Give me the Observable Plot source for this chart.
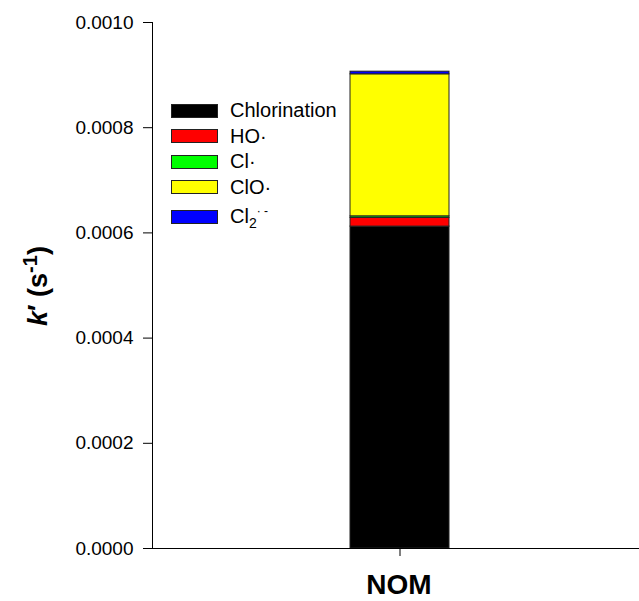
<!DOCTYPE html>
<html><head><meta charset="utf-8">
<script src="https://cdn.jsdelivr.net/npm/d3@7"></script>
<script src="https://cdn.jsdelivr.net/npm/@observablehq/plot@0.6"></script>
<style>
body{margin:0;overflow:hidden;background:#fff;font-family:"Liberation Sans",Arial,sans-serif;}
#wrap{position:relative;width:639px;height:601px;}
#legend{position:absolute;left:171px;top:98px;font-size:20px;color:#000;}
.row{display:flex;align-items:center;height:25.5px;}
.sw{width:47px;height:14px;border:1px solid #222;box-sizing:border-box;margin-right:12px;}
sub{font-size:14px;}
sup{font-size:12px;}
</style></head>
<body><div id="wrap"><div id="legend"></div></div>
<script>
const categories = ["NOM"];
const series = ["Chlorination", "HO·", "Cl·", "ClO·", "Cl2·−"];
const values = [0.000612, 0.0000165, 0.000003, 0.00027, 0.000005];
const colors = ["#000000", "#ff0000", "#00ff00", "#ffff00", "#0000ff"];
const legendLabels = ["Chlorination", "HO·", "Cl·", "ClO·", "Cl<sub>2</sub><sup>·&nbsp;-</sup>"];
const yTicks = [0, 0.0002, 0.0004, 0.0006, 0.0008, 0.0010];

const data = series.map((s, i) => ({cat: categories[0], series: s, value: values[i]}));

const plot = Plot.plot({
  width: 639, height: 601,
  marginLeft: 152, marginRight: -7, marginTop: 22, marginBottom: 53,
  style: {fontFamily: "'Liberation Sans', Arial, sans-serif", fontSize: "19px", color: "#000", background: "#fff"},
  x: {domain: categories, padding: 0.667, label: null},
  y: {domain: [0, 0.001], label: null},
  color: {domain: series, range: colors},
  marks: [
    Plot.barY(data, {x: "cat", y: "value", fill: "series", stroke: "#222", strokeWidth: 1, order: series}),
    Plot.axisY({ticks: yTicks, tickFormat: d3.format(".4f"), tickSize: 9, tickPadding: 10, fontSize: 19, label: null}),
    Plot.axisX({tickSize: 8, tickFormat: () => "", label: null}),
    Plot.frame({anchor: "left", stroke: "#000"}),
    Plot.frame({anchor: "bottom", stroke: "#000"})
  ]
});
const wrap = document.getElementById("wrap");
wrap.insertBefore(plot, wrap.firstChild);

const svg = d3.select(plot);
svg.append("text").attr("x", 399).attr("y", 594).attr("text-anchor", "middle")
  .attr("font-weight", "bold").attr("font-size", 28).text(categories[0]);
const yl = svg.append("text").attr("transform", "translate(47,286) rotate(-90)")
  .attr("text-anchor", "middle").attr("font-weight", "bold").attr("font-size", 27);
yl.append("tspan").attr("font-style", "italic").text("k");
yl.append("tspan").text("′ (s");
yl.append("tspan").attr("font-size", 20).attr("dy", -10).text("-1");
yl.append("tspan").attr("dy", 10).text(")");

const lg = document.getElementById("legend");
legendLabels.forEach((l, i) => {
  const r = document.createElement("div");
  r.className = "row";
  if (i === 4) r.style.height = "34px";
  r.innerHTML = `<div class="sw" style="background:${colors[i]}"></div><span>${l}</span>`;
  lg.appendChild(r);
});
</script></body></html>
